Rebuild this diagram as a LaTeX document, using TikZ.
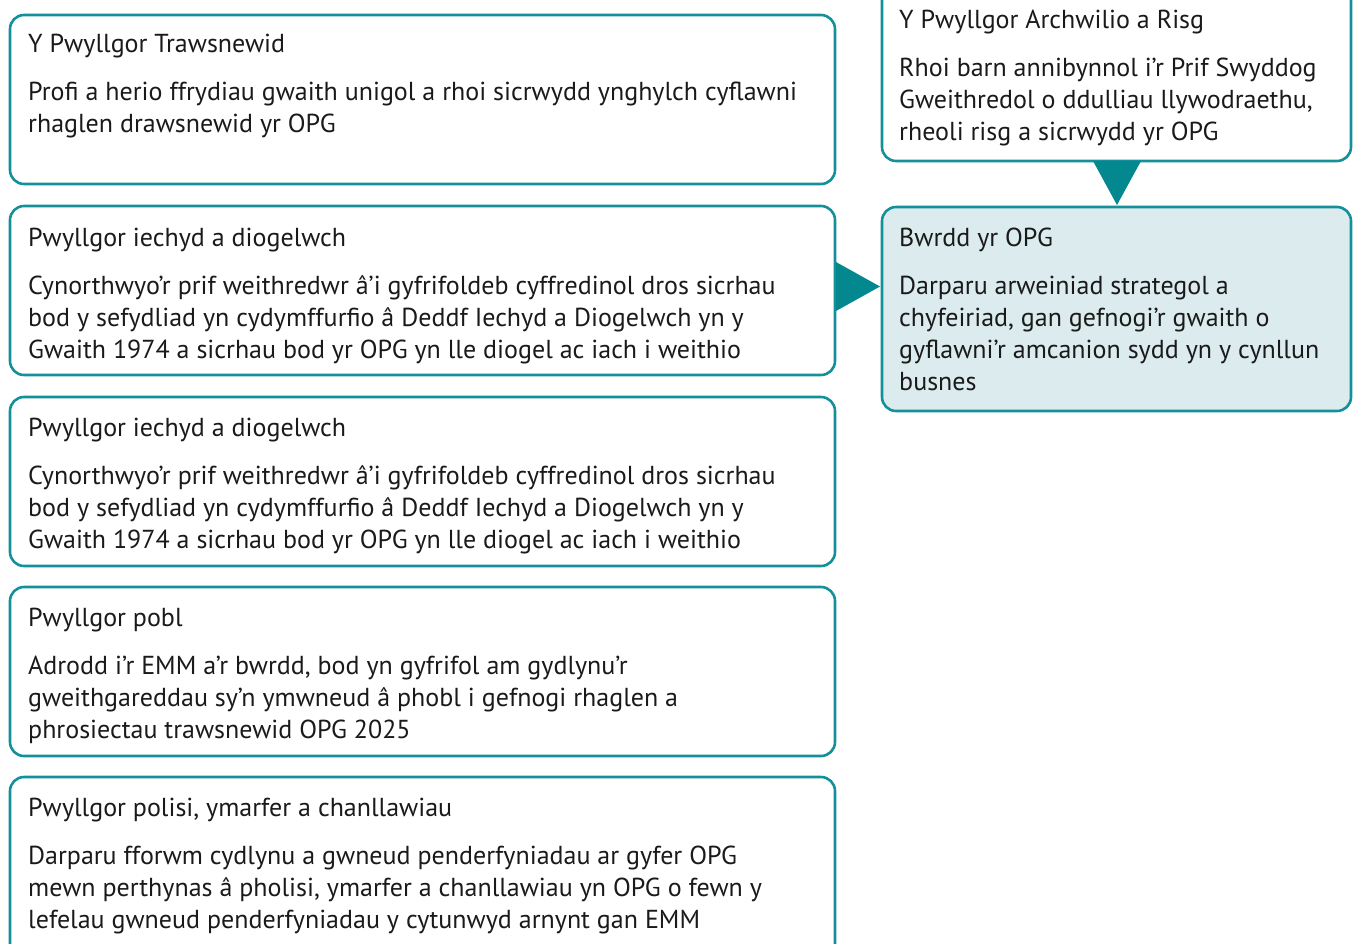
\documentclass[tikz,border=0pt]{standalone}
\usepackage{fontspec}
\setmainfont{PT Sans}
\usetikzlibrary{calc}
\definecolor{tealline}{HTML}{14909A}
\definecolor{tealfill}{HTML}{03888F}
\definecolor{boardfill}{HTML}{DCEBEE}
\definecolor{inktext}{HTML}{1A1A1A}
\newcommand\mytl[4]{\node[txt] (#1) at (#2,#3) {#4};}
\begin{document}
\begin{tikzpicture}[x=1pt,y=-1pt,
  boxst/.style={draw=tealline, line width=2.6pt, rounded corners=14pt},
  boardst/.style={boxst, fill=boardfill},
  txt/.style={anchor=base west, inner sep=0pt, text=inktext, font=\fontsize{26}{30}\selectfont},
  tri/.style={fill=tealfill}]
\useasboundingbox (0,0) rectangle (1356,943);
% left boxes
\draw[boxst] (10,15) rectangle (835,184);
\draw[boxst] (10,206) rectangle (835,375);
\draw[boxst] (10,397) rectangle (835,566);
\draw[boxst] (10,587) rectangle (835,756);
\draw[boxst] (10,777) rectangle (835,960);
\coordinate (b2e) at (835,286.5);
% right boxes
\draw[boxst] (882,-30) rectangle (1351,161);
\draw[boardst] (882,207) rectangle (1351,411);
\coordinate (rts) at (1117,161);
\coordinate (bwn) at (1117,205);
\coordinate (bww) at (880,286.5);
% arrows
\fill[tri] ($(rts)+(-24,0)$) -- ($(rts)+(24,0)$) -- (bwn) -- cycle;
\fill[tri] ($(b2e)+(1,-24.5)$) -- ($(b2e)+(1,24.5)$) -- (bww) -- cycle;
% texts box 1
\mytl{t1h}{28}{52}{Y Pwyllgor Trawsnewid}
\mytl{t1a}{28}{100}{Profi a herio ffrydiau gwaith unigol a rhoi sicrwydd ynghylch cyflawni}
\mytl{t1b}{28}{132}{rhaglen drawsnewid yr OPG}
% box 2
\mytl{t2h}{28}{246}{Pwyllgor iechyd a diogelwch}
\mytl{t2a}{28}{294}{Cynorthwyo’r prif weithredwr â’i gyfrifoldeb cyffredinol dros sicrhau}
\mytl{t2b}{28}{326}{bod y sefydliad yn cydymffurfio â Deddf Iechyd a Diogelwch yn y}
\mytl{t2c}{28}{358}{Gwaith 1974 a sicrhau bod yr OPG yn lle diogel ac iach i weithio}
% box 3
\mytl{t3h}{28}{436}{Pwyllgor iechyd a diogelwch}
\mytl{t3a}{28}{484}{Cynorthwyo’r prif weithredwr â’i gyfrifoldeb cyffredinol dros sicrhau}
\mytl{t3b}{28}{516}{bod y sefydliad yn cydymffurfio â Deddf Iechyd a Diogelwch yn y}
\mytl{t3c}{28}{548}{Gwaith 1974 a sicrhau bod yr OPG yn lle diogel ac iach i weithio}
% box 4
\mytl{t4h}{28}{626}{Pwyllgor pobl}
\mytl{t4a}{28}{674}{Adrodd i’r EMM a’r bwrdd, bod yn gyfrifol am gydlynu’r}
\mytl{t4b}{28}{706}{gweithgareddau sy’n ymwneud â phobl i gefnogi rhaglen a}
\mytl{t4c}{28}{738}{phrosiectau trawsnewid OPG 2025}
% box 5
\mytl{t5h}{28}{816}{Pwyllgor polisi, ymarfer a chanllawiau}
\mytl{t5a}{28}{864}{Darparu fforwm cydlynu a gwneud penderfyniadau ar gyfer OPG}
\mytl{t5b}{28}{896}{mewn perthynas â pholisi, ymarfer a chanllawiau yn OPG o fewn y}
\mytl{t5c}{28}{928}{lefelau gwneud penderfyniadau y cytunwyd arnynt gan EMM}
% right top
\mytl{r1h}{899}{28}{Y Pwyllgor Archwilio a Risg}
\mytl{r1a}{899}{76}{Rhoi barn annibynnol i’r Prif Swyddog}
\mytl{r1b}{899}{108}{Gweithredol o ddulliau llywodraethu,}
\mytl{r1c}{899}{140}{rheoli risg a sicrwydd yr OPG}
% board
\mytl{r2h}{899}{246}{Bwrdd yr OPG}
\mytl{r2a}{899}{294}{Darparu arweiniad strategol a}
\mytl{r2b}{899}{326}{chyfeiriad, gan gefnogi’r gwaith o}
\mytl{r2c}{899}{358}{gyflawni’r amcanion sydd yn y cynllun}
\mytl{r2d}{899}{390}{busnes}
\end{tikzpicture}
\end{document}
